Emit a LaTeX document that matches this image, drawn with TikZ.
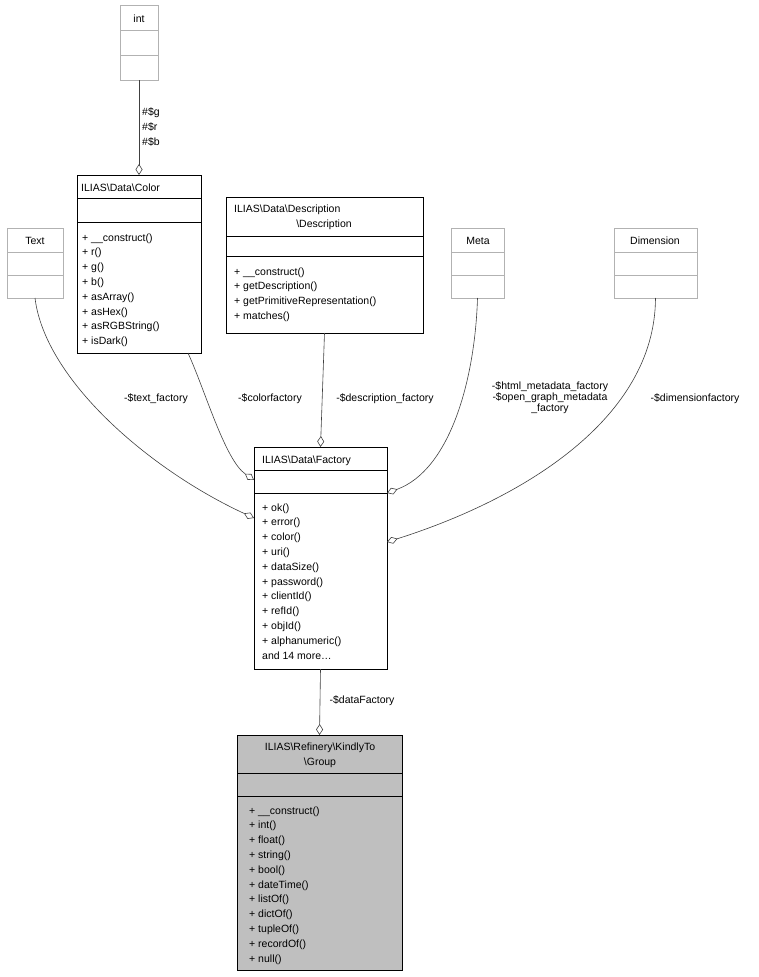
\documentclass[tikz,border=0pt]{standalone}
\usepackage{fontspec}
\setmainfont{Liberation Sans}
\usetikzlibrary{arrows.meta}

\tikzset{
    cls/.style={draw=black,fill=white,line width=0.8pt},
    ext/.style={draw=black!30,fill=white,line width=0.8pt},
    hl/.style={draw=black,fill=black!25,line width=0.8pt},
    txt/.style={anchor=base west,inner sep=0pt,font=\fontsize{10.5}{12}\selectfont},
    ctxt/.style={anchor=base,inner sep=0pt,font=\fontsize{10.5}{12}\selectfont},
    lbl/.style={inner sep=0pt,font=\fontsize{10.5}{12}\selectfont,align=center},
    agg/.style={-{Diamond[open,length=11pt,width=7pt]},line width=0.6pt,black!75},
}

% box: name, style, x1, y1, x2, y2, header bottom, empty bottom
\newcommand{\umlbox}[8]{
    \draw[#2] (#3,#4) rectangle (#5,#6);
    \draw[#2] (#3,#7) -- (#5,#7);
    \draw[#2] (#3,#8) -- (#5,#8);
    \coordinate (#1-n) at ({(#3+#5)/2},#4);
    \coordinate (#1-s) at ({(#3+#5)/2},#6);
}
% method list: x, first baseline y, items
\newcommand{\methods}[3]{
    \foreach \m [count=\i from 0] in {#3}
        \node[txt] at (#1,{#2+14.8*\i}) {\m};
}

\begin{document}
\begin{tikzpicture}[x=1pt,y=-1pt]
    \useasboundingbox (0,0) rectangle (759,977);

    % classes
    \umlbox{int}{ext}{120}{5}{158}{80}{30}{55}
    \node[ctxt] at (139,22) {int};

    \umlbox{color}{cls}{77}{175}{201}{353}{198}{222}
    \node[txt] at (81,191) {ILIAS\textbackslash Data\textbackslash Color};
    \methods{82}{241}{+ \_\_construct(),+ r(),+ g(),+ b(),+ asArray(),+ asHex(),+ asRGBString(),+ isDark()}

    \umlbox{desc}{cls}{226}{197}{423}{333}{236}{256}
    \node[txt] at (234,212) {ILIAS\textbackslash Data\textbackslash Description};
    \node[ctxt] at (324,227) {\textbackslash Description};
    \methods{234}{275}{+ \_\_construct(),+ getDescription(),+ getPrimitiveRepresentation(),+ matches()}

    \umlbox{text}{ext}{7}{228}{63}{298}{252}{275}
    \node[ctxt] at (35,244) {Text};

    \umlbox{meta}{ext}{451}{228}{504}{298}{252}{275}
    \node[ctxt] at (478,244) {Meta};

    \umlbox{dim}{ext}{614}{228}{697}{298}{252}{275}
    \node[ctxt] at (655,244) {Dimension};

    \umlbox{fac}{cls}{254}{447}{387}{669}{470}{493}
    \node[txt] at (262,463) {ILIAS\textbackslash Data\textbackslash Factory};
    \methods{262}{511}{+ ok(),+ error(),+ color(),+ uri(),+ dataSize(),+ password(),+ clientId(),+ refId(),+ objId(),+ alphanumeric(),{and 14 more\ldots}}

    \umlbox{grp}{hl}{237}{735}{402}{970}{773}{796}
    \node[ctxt] at (320,750) {ILIAS\textbackslash Refinery\textbackslash KindlyTo};
    \node[ctxt] at (320,765) {\textbackslash Group};
    \methods{249}{814}{+ \_\_construct(),+ int(),+ float(),+ string(),+ bool(),+ dateTime(),+ listOf(),+ dictOf(),+ tupleOf(),+ recordOf(),+ null()}

    % connectors
    \coordinate (fac-w1) at (254,518);
    \coordinate (fac-w2) at (254,480);
    \coordinate (fac-e1) at (387,493);
    \coordinate (fac-e2) at (387,542);
    \coordinate (color-se) at (188,353);
    \draw[agg] (int-s) -- (color-n);
    \draw[agg] (text-s) .. controls (45,380) and (150,470) .. (fac-w1);
    \draw[agg] (color-se) .. controls (205,390) and (225,460) .. (fac-w2);
    \draw[agg] (desc-s) -- (fac-n);
    \draw[agg] (meta-s) .. controls (475,380) and (450,470) .. (fac-e1);
    \draw[agg] (dim-s) .. controls (655,420) and (520,500) .. (fac-e2);
    \draw[agg] (fac-s) -- (grp-n);

    % labels
    \node[lbl,anchor=west] at (142,113) {\#\$g};
    \node[lbl,anchor=west] at (142,127) {\#\$r};
    \node[lbl,anchor=west] at (142,142) {\#\$b};
    \node[lbl] at (156,399) {-\$text\_factory};
    \node[lbl] at (270,399) {-\$colorfactory};
    \node[lbl] at (385,399) {-\$description\_factory};
    \node[lbl,align=center] at (550,398) {-\$html\_metadata\_factory\\[-1pt]-\$open\_graph\_metadata\\[-1pt]\_factory};
    \node[lbl] at (695,399) {-\$dimensionfactory};
    \node[lbl] at (362,701) {-\$dataFactory};
\end{tikzpicture}
\end{document}
